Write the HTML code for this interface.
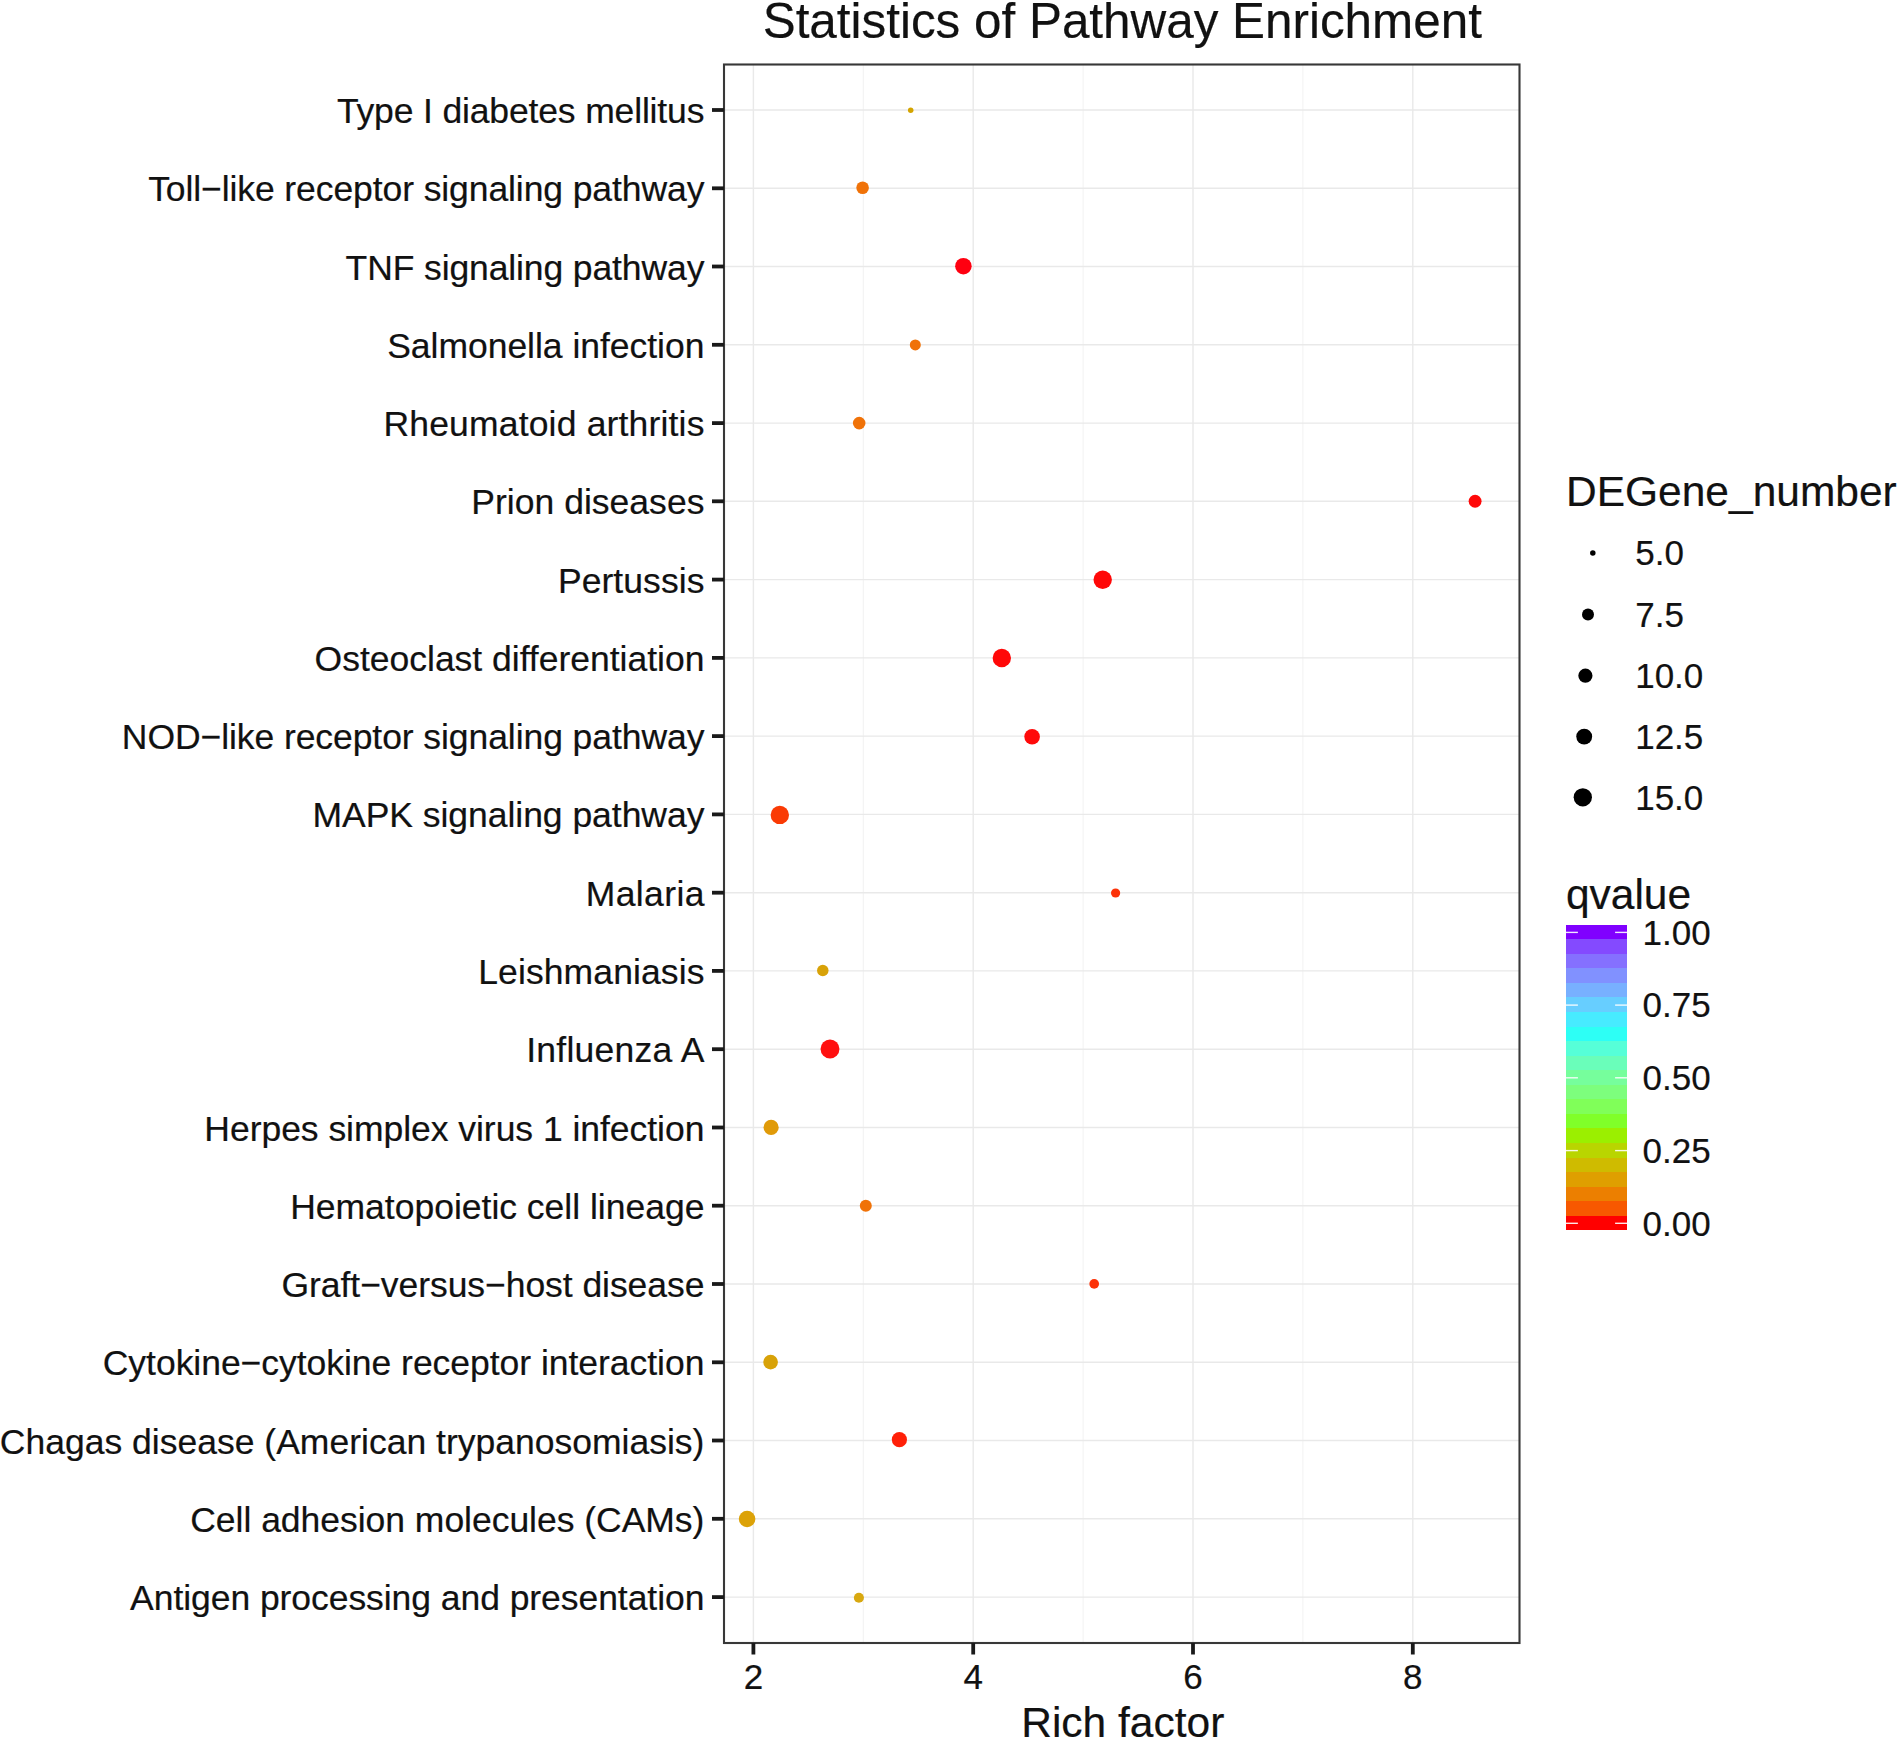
<!DOCTYPE html>
<html lang="en"><head><meta charset="utf-8"><title>Statistics of Pathway Enrichment</title>
<style>
html,body{margin:0;padding:0;background:#fff;}
body{width:1900px;height:1739px;overflow:hidden;}
svg{display:block;}
text{font-family:"Liberation Sans",Arial,Helvetica,sans-serif;fill:#111;stroke:#111;stroke-width:0.2px;}
.t{font-size:49.4px;}
.a{font-size:35.5px;}
.l{font-size:35px;}
.h{font-size:42.5px;}
</style></head><body>
<svg width="1900" height="1739" viewBox="0 0 1900 1739">
<rect width="1900" height="1739" fill="#fff"/>

<g stroke="#f3f3f3" stroke-width="1.1">
<line x1="863.3" y1="64.5" x2="863.3" y2="1643.0"/>
<line x1="1083.1" y1="64.5" x2="1083.1" y2="1643.0"/>
<line x1="1302.9" y1="64.5" x2="1302.9" y2="1643.0"/>
</g>
<g stroke="#e9e9e9" stroke-width="1.4">
<line x1="753.4" y1="64.5" x2="753.4" y2="1643.0"/>
<line x1="973.2" y1="64.5" x2="973.2" y2="1643.0"/>
<line x1="1193.0" y1="64.5" x2="1193.0" y2="1643.0"/>
<line x1="1412.8" y1="64.5" x2="1412.8" y2="1643.0"/>
<line x1="724.0" y1="110.0" x2="1519.5" y2="110.0"/>
<line x1="724.0" y1="188.3" x2="1519.5" y2="188.3"/>
<line x1="724.0" y1="266.5" x2="1519.5" y2="266.5"/>
<line x1="724.0" y1="344.8" x2="1519.5" y2="344.8"/>
<line x1="724.0" y1="423.1" x2="1519.5" y2="423.1"/>
<line x1="724.0" y1="501.3" x2="1519.5" y2="501.3"/>
<line x1="724.0" y1="579.6" x2="1519.5" y2="579.6"/>
<line x1="724.0" y1="657.9" x2="1519.5" y2="657.9"/>
<line x1="724.0" y1="736.1" x2="1519.5" y2="736.1"/>
<line x1="724.0" y1="814.4" x2="1519.5" y2="814.4"/>
<line x1="724.0" y1="892.7" x2="1519.5" y2="892.7"/>
<line x1="724.0" y1="970.9" x2="1519.5" y2="970.9"/>
<line x1="724.0" y1="1049.2" x2="1519.5" y2="1049.2"/>
<line x1="724.0" y1="1127.5" x2="1519.5" y2="1127.5"/>
<line x1="724.0" y1="1205.7" x2="1519.5" y2="1205.7"/>
<line x1="724.0" y1="1284.0" x2="1519.5" y2="1284.0"/>
<line x1="724.0" y1="1362.3" x2="1519.5" y2="1362.3"/>
<line x1="724.0" y1="1440.5" x2="1519.5" y2="1440.5"/>
<line x1="724.0" y1="1518.8" x2="1519.5" y2="1518.8"/>
<line x1="724.0" y1="1597.1" x2="1519.5" y2="1597.1"/>
</g>
<g>
<circle cx="910.7" cy="110.3" r="2.75" fill="#D4A400"/>
<circle cx="862.6" cy="187.8" r="6.30" fill="#F07208"/>
<circle cx="963.4" cy="266.2" r="8.25" fill="#FF0010"/>
<circle cx="915.3" cy="344.9" r="5.50" fill="#F07208"/>
<circle cx="859.2" cy="423.1" r="6.30" fill="#F07208"/>
<circle cx="1475.1" cy="501.2" r="6.45" fill="#FF0808"/>
<circle cx="1102.7" cy="579.8" r="9.20" fill="#FF0808"/>
<circle cx="1001.8" cy="658.0" r="9.20" fill="#FF0808"/>
<circle cx="1032.1" cy="736.7" r="7.80" fill="#FF0A0A"/>
<circle cx="779.8" cy="814.9" r="9.20" fill="#FA3A04"/>
<circle cx="1115.6" cy="893.0" r="4.60" fill="#FC3208"/>
<circle cx="822.8" cy="970.5" r="5.75" fill="#D8A208"/>
<circle cx="830.0" cy="1049.0" r="9.45" fill="#FF1010"/>
<circle cx="771.1" cy="1127.4" r="7.60" fill="#E09A08"/>
<circle cx="865.8" cy="1205.8" r="6.00" fill="#F07208"/>
<circle cx="1094.2" cy="1283.9" r="4.85" fill="#FC3208"/>
<circle cx="770.6" cy="1362.1" r="7.35" fill="#D8A208"/>
<circle cx="899.4" cy="1439.7" r="7.60" fill="#FF2008"/>
<circle cx="747.1" cy="1519.0" r="8.30" fill="#DCA208"/>
<circle cx="858.9" cy="1597.7" r="5.05" fill="#D8A810"/>
</g>
<rect x="724.0" y="64.5" width="795.5" height="1578.5" fill="none" stroke="#383838" stroke-width="2.1"/>
<g stroke="#1a1a1a" stroke-width="3.8">
<line x1="712" y1="110.0" x2="724.0" y2="110.0"/>
<line x1="712" y1="188.3" x2="724.0" y2="188.3"/>
<line x1="712" y1="266.5" x2="724.0" y2="266.5"/>
<line x1="712" y1="344.8" x2="724.0" y2="344.8"/>
<line x1="712" y1="423.1" x2="724.0" y2="423.1"/>
<line x1="712" y1="501.3" x2="724.0" y2="501.3"/>
<line x1="712" y1="579.6" x2="724.0" y2="579.6"/>
<line x1="712" y1="657.9" x2="724.0" y2="657.9"/>
<line x1="712" y1="736.1" x2="724.0" y2="736.1"/>
<line x1="712" y1="814.4" x2="724.0" y2="814.4"/>
<line x1="712" y1="892.7" x2="724.0" y2="892.7"/>
<line x1="712" y1="970.9" x2="724.0" y2="970.9"/>
<line x1="712" y1="1049.2" x2="724.0" y2="1049.2"/>
<line x1="712" y1="1127.5" x2="724.0" y2="1127.5"/>
<line x1="712" y1="1205.7" x2="724.0" y2="1205.7"/>
<line x1="712" y1="1284.0" x2="724.0" y2="1284.0"/>
<line x1="712" y1="1362.3" x2="724.0" y2="1362.3"/>
<line x1="712" y1="1440.5" x2="724.0" y2="1440.5"/>
<line x1="712" y1="1518.8" x2="724.0" y2="1518.8"/>
<line x1="712" y1="1597.1" x2="724.0" y2="1597.1"/>
<line x1="753.4" y1="1643.0" x2="753.4" y2="1654.5"/>
<line x1="973.2" y1="1643.0" x2="973.2" y2="1654.5"/>
<line x1="1193.0" y1="1643.0" x2="1193.0" y2="1654.5"/>
<line x1="1412.8" y1="1643.0" x2="1412.8" y2="1654.5"/>
</g>
<g class="a" text-anchor="end">
<text x="704.4" y="123.0" textLength="367.47" lengthAdjust="spacing">Type I diabetes mellitus</text>
<text x="704.4" y="201.3" textLength="556.24" lengthAdjust="spacing">Toll−like receptor signaling pathway</text>
<text x="704.4" y="279.5" textLength="358.79" lengthAdjust="spacing">TNF signaling pathway</text>
<text x="704.4" y="357.8" textLength="317.22" lengthAdjust="spacing">Salmonella infection</text>
<text x="704.4" y="436.1" textLength="320.97" lengthAdjust="spacing">Rheumatoid arthritis</text>
<text x="704.4" y="514.3" textLength="233.16" lengthAdjust="spacing">Prion diseases</text>
<text x="704.4" y="592.6" textLength="146.50" lengthAdjust="spacing">Pertussis</text>
<text x="704.4" y="670.9" textLength="389.78" lengthAdjust="spacing">Osteoclast differentiation</text>
<text x="704.4" y="749.1" textLength="582.56" lengthAdjust="spacing">NOD−like receptor signaling pathway</text>
<text x="704.4" y="827.4" textLength="391.89" lengthAdjust="spacing">MAPK signaling pathway</text>
<text x="704.4" y="905.7" textLength="118.71" lengthAdjust="spacing">Malaria</text>
<text x="704.4" y="983.9" textLength="226.15" lengthAdjust="spacing">Leishmaniasis</text>
<text x="704.4" y="1062.2" textLength="178.17" lengthAdjust="spacing">Influenza A</text>
<text x="704.4" y="1140.5" textLength="500.06" lengthAdjust="spacing">Herpes simplex virus 1 infection</text>
<text x="704.4" y="1218.7" textLength="414.21" lengthAdjust="spacing">Hematopoietic cell lineage</text>
<text x="704.4" y="1297.0" textLength="422.85" lengthAdjust="spacing">Graft−versus−host disease</text>
<text x="704.4" y="1375.3" textLength="601.63" lengthAdjust="spacing">Cytokine−cytokine receptor interaction</text>
<text x="704.4" y="1453.5" textLength="704.59" lengthAdjust="spacing">Chagas disease (American trypanosomiasis)</text>
<text x="704.4" y="1531.8" textLength="514.15" lengthAdjust="spacing">Cell adhesion molecules (CAMs)</text>
<text x="704.4" y="1610.1" textLength="574.30" lengthAdjust="spacing">Antigen processing and presentation</text>
</g>
<g class="l" text-anchor="middle">
<text x="753.4" y="1688.5">2</text>
<text x="973.2" y="1688.5">4</text>
<text x="1193.0" y="1688.5">6</text>
<text x="1412.8" y="1688.5">8</text>
</g>
<text class="h" text-anchor="middle" x="1122.8" y="1736.8">Rich factor</text>
<text class="t" text-anchor="middle" x="1122.3" y="38.3">Statistics of Pathway Enrichment</text>
<text class="h" x="1566" y="506.3">DEGene_number</text>
<g class="l">
<circle cx="1592.8" cy="553.1" r="2.75" fill="#000"/>
<text x="1635.2" y="565.3">5.0</text>
<circle cx="1588.0" cy="614.6" r="6.00" fill="#000"/>
<text x="1635.2" y="626.8">7.5</text>
<circle cx="1585.4" cy="675.7" r="7.10" fill="#000"/>
<text x="1635.2" y="687.9">10.0</text>
<circle cx="1584.2" cy="736.6" r="7.95" fill="#000"/>
<text x="1635.2" y="748.8">12.5</text>
<circle cx="1582.8" cy="797.3" r="9.15" fill="#000"/>
<text x="1635.2" y="809.5">15.0</text>
</g>
<text class="h" x="1565.9" y="908.6">qvalue</text>
<g shape-rendering="crispEdges">
<rect x="1565.9" y="1215.54" width="61.2" height="14.86" fill="#FF0000"/>
<rect x="1565.9" y="1200.98" width="61.2" height="14.86" fill="#F75800"/>
<rect x="1565.9" y="1186.42" width="61.2" height="14.86" fill="#EC7F00"/>
<rect x="1565.9" y="1171.86" width="61.2" height="14.86" fill="#DF9F00"/>
<rect x="1565.9" y="1157.30" width="61.2" height="14.86" fill="#CFBB00"/>
<rect x="1565.9" y="1142.74" width="61.2" height="14.86" fill="#B9D500"/>
<rect x="1565.9" y="1128.18" width="61.2" height="14.86" fill="#9BEF00"/>
<rect x="1565.9" y="1113.62" width="61.2" height="14.86" fill="#80FF29"/>
<rect x="1565.9" y="1099.06" width="61.2" height="14.86" fill="#80FF59"/>
<rect x="1565.9" y="1084.50" width="61.2" height="14.86" fill="#7DFE7D"/>
<rect x="1565.9" y="1069.94" width="61.2" height="14.86" fill="#76FE9C"/>
<rect x="1565.9" y="1055.38" width="61.2" height="14.86" fill="#6AFEBA"/>
<rect x="1565.9" y="1040.82" width="61.2" height="14.86" fill="#56FFD8"/>
<rect x="1565.9" y="1026.26" width="61.2" height="14.86" fill="#2DFFF5"/>
<rect x="1565.9" y="1011.70" width="61.2" height="14.86" fill="#47EBFF"/>
<rect x="1565.9" y="997.14" width="61.2" height="14.86" fill="#67CEFF"/>
<rect x="1565.9" y="982.58" width="61.2" height="14.86" fill="#78B0FF"/>
<rect x="1565.9" y="968.02" width="61.2" height="14.86" fill="#8191FF"/>
<rect x="1565.9" y="953.46" width="61.2" height="14.86" fill="#8570FF"/>
<rect x="1565.9" y="938.90" width="61.2" height="14.86" fill="#844AFF"/>
<rect x="1565.9" y="924.70" width="61.2" height="14.50" fill="#8000FF"/>
</g>
<g stroke="#fff" stroke-width="1.4" opacity="0.9">
<line x1="1565.9" y1="1223.3" x2="1577.9" y2="1223.3"/><line x1="1615.1" y1="1223.3" x2="1627.1" y2="1223.3"/>
<line x1="1565.9" y1="1150.6" x2="1577.9" y2="1150.6"/><line x1="1615.1" y1="1150.6" x2="1627.1" y2="1150.6"/>
<line x1="1565.9" y1="1077.8" x2="1577.9" y2="1077.8"/><line x1="1615.1" y1="1077.8" x2="1627.1" y2="1077.8"/>
<line x1="1565.9" y1="1005.1" x2="1577.9" y2="1005.1"/><line x1="1615.1" y1="1005.1" x2="1627.1" y2="1005.1"/>
<line x1="1565.9" y1="932.4" x2="1577.9" y2="932.4"/><line x1="1615.1" y1="932.4" x2="1627.1" y2="932.4"/>
</g>
<g class="l">
<text x="1642.5" y="1235.6">0.00</text>
<text x="1642.5" y="1162.9">0.25</text>
<text x="1642.5" y="1090.1">0.50</text>
<text x="1642.5" y="1017.4">0.75</text>
<text x="1642.5" y="944.7">1.00</text>
</g>
</svg>
</body></html>
